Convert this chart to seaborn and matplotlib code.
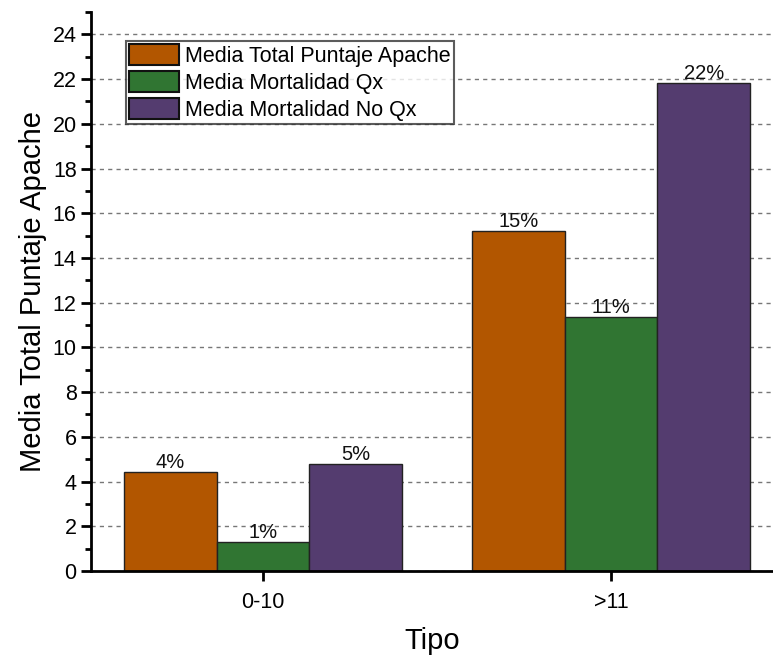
import matplotlib
matplotlib.use("Agg")
import matplotlib.pyplot as plt
from matplotlib.ticker import MultipleLocator
import seaborn as sns
import pandas as pd

# data
tipos = ["0-10", ">11"]
series = ["Media Total Puntaje Apache", "Media Mortalidad Qx", "Media Mortalidad No Qx"]
apache = [4.42, 15.22]
mort_qx = [1.29, 11.38]
mort_noqx = [4.78, 21.83]
pct_labels = [["4%", "15%"], ["1%", "11%"], ["5%", "22%"]]
colors = ["#B25600", "#307532", "#543C6F"]

sns.set_style("white")
plt.rcParams["font.family"] = ["Liberation Sans", "DejaVu Sans"]
plt.rcParams["text.color"] = "black"
plt.rcParams["axes.labelcolor"] = "black"
plt.rcParams["xtick.color"] = "black"
plt.rcParams["ytick.color"] = "black"

df = pd.DataFrame({
  "Tipo": tipos * 3,
  "serie": [series[0]] * 2 + [series[1]] * 2 + [series[2]] * 2,
  "valor": apache + mort_qx + mort_noqx,
})

fig = plt.figure(figsize=(7.73, 6.56), dpi=100)
ax = fig.add_axes([0.118, 0.1296, 0.882, 0.852])

sns.barplot(data=df, x="Tipo", y="valor", hue="serie", palette=colors,
            width=0.8, edgecolor="#222222", linewidth=1.0, saturation=1,
            ax=ax, zorder=3)

for cont, labs in zip(ax.containers, pct_labels):
  ax.bar_label(cont, labels=labs, padding=0, fontsize=14.5, color="#111111")

ax.set_ylim(0, 25)
ax.set_xlim(-0.494, 1.466)
ax.yaxis.set_major_locator(MultipleLocator(2))
ax.yaxis.set_minor_locator(MultipleLocator(1))
ax.set_yticks(range(0, 25, 2))
ax.grid(axis="y", which="major", linestyle=(0, (3, 3)), color="#777777", linewidth=1.0, zorder=0)
ax.set_axisbelow(True)

for s in ["top", "right"]:
  ax.spines[s].set_visible(False)
for s in ["left", "bottom"]:
  ax.spines[s].set_linewidth(2)
  ax.spines[s].set_color("black")
  ax.spines[s].set_zorder(5)

ax.tick_params(axis="y", which="major", direction="out", length=7, width=2, labelsize=15.5, left=True)
ax.tick_params(axis="y", which="minor", direction="out", length=4, width=2, left=True)
ax.tick_params(axis="x", which="major", direction="out", length=7, width=2, labelsize=15.5, bottom=True, pad=8)

ax.set_ylabel("Media Total Puntaje Apache", fontsize=21, labelpad=4)
ax.set_xlabel("Tipo", fontsize=21, labelpad=10)

leg = ax.legend(loc="upper left", bbox_to_anchor=(0.051, 0.948), fontsize=15.5, frameon=True,
                fancybox=False, edgecolor="#333333", borderpad=0.15, labelspacing=0.2,
                handlelength=2.3, handleheight=1.1, handletextpad=0.3, borderaxespad=0)
leg.get_frame().set_linewidth(1.5)
for h in leg.legend_handles:
  h.set_edgecolor("#111111")
  h.set_linewidth(1.5)

fig.savefig("out.png", dpi=100)
